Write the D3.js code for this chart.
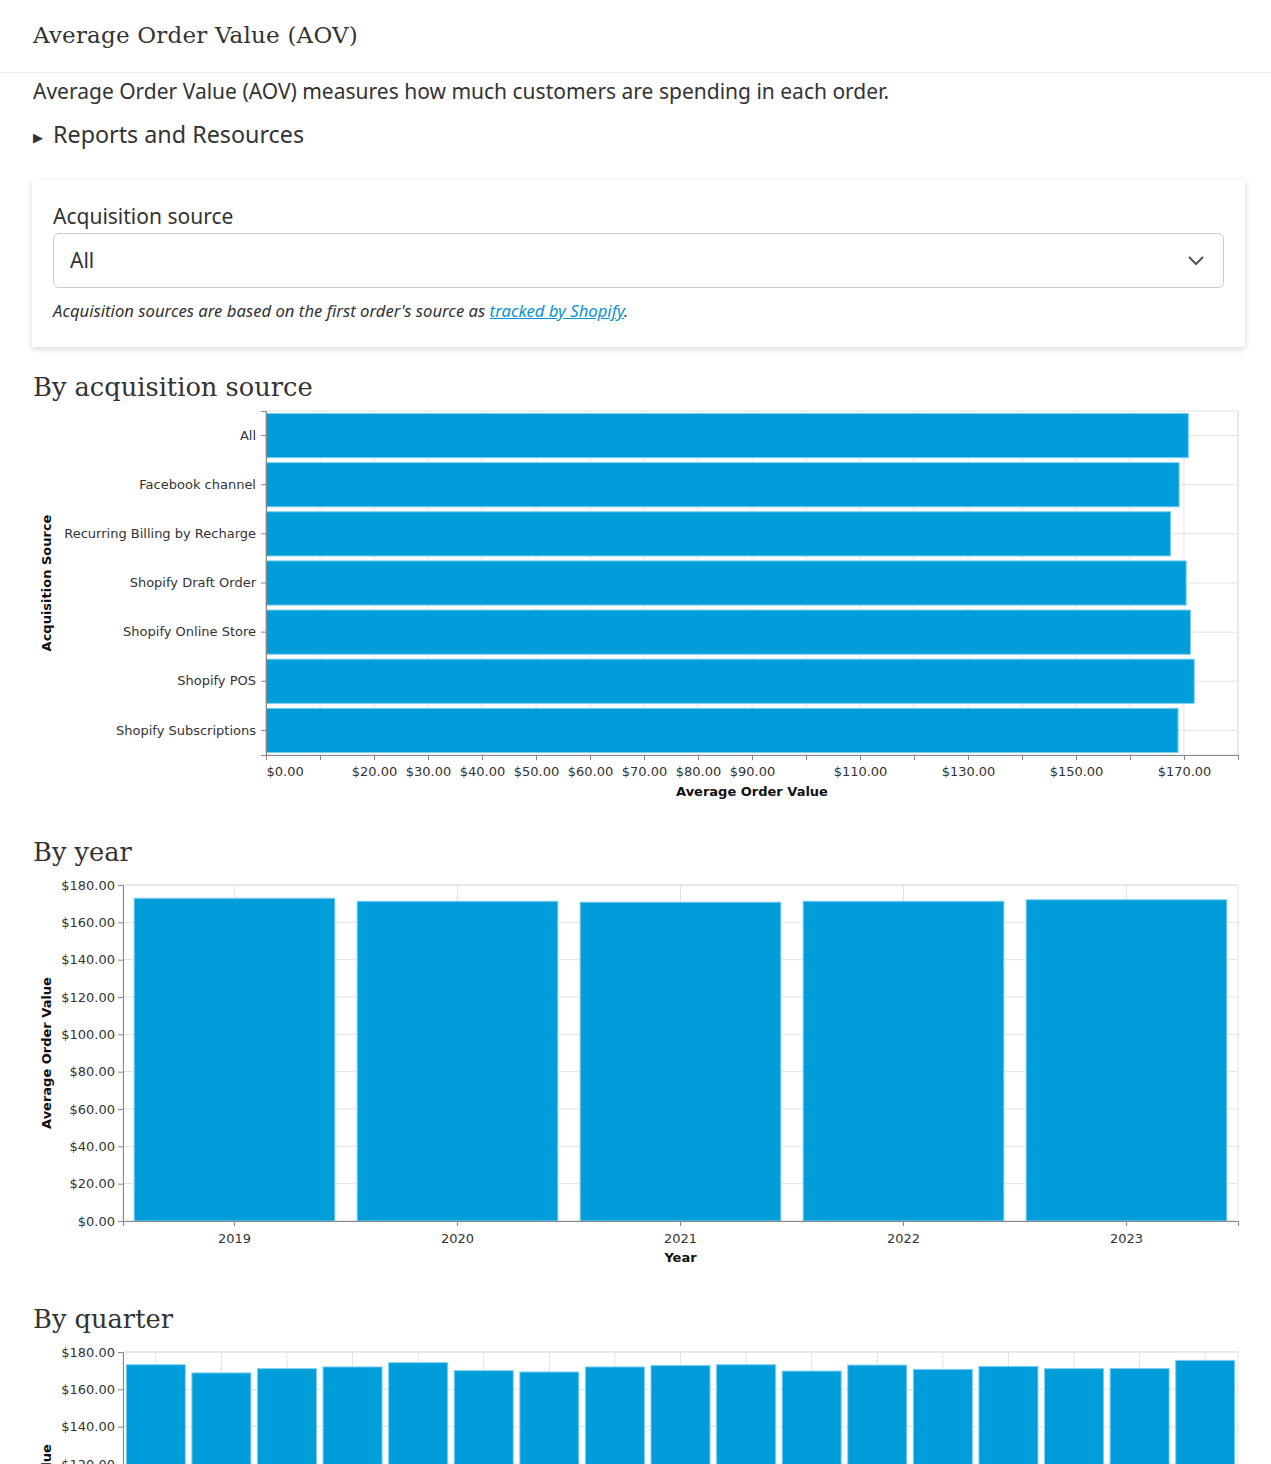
<!DOCTYPE html>
<html>
<head>
<meta charset="utf-8">
<script src="https://cdn.jsdelivr.net/npm/d3@7"></script>
<style>
  html, body { margin: 0; padding: 0; background: #fff; width: 1271px; overflow: hidden; }
  body { position: relative; height: 1464px; font-family: "Noto Sans", sans-serif; color: #333; }
  .abs { position: absolute; white-space: nowrap; }
  .topbar { position: absolute; left: 0; top: 0; width: 1271px; height: 72px; border-bottom: 1px solid #eee; box-shadow: 0 1px 2px rgba(0,0,0,0.04); }
  .slab { font-family: "DejaVu Serif", serif; color: #333; }
  .card { position: absolute; left: 32px; top: 180px; width: 1213px; height: 167px; background: #fff; box-shadow: 0 2px 6px rgba(0,0,0,0.16); border-radius: 2px; }
  .select { position: absolute; left: 21px; top: 53px; width: 1169px; height: 53px; border: 1px solid #ccc; border-radius: 6px; }
  a { color: #0a93d4; }
  svg text { font-family: "DejaVu Sans", sans-serif; }
</style>
</head>
<body>
<div class="topbar"></div>
<div class="abs slab" style="left:33px; top:22px; font-size:23px; letter-spacing:0.2px;">Average Order Value (AOV)</div>
<div class="abs" style="left:33px; top:77px; font-size:21px;">Average Order Value (AOV) measures how much customers are spending in each order.</div>
<div class="abs" style="left:33px; top:128px; font-size:13px;">&#9654;</div>
<div class="abs" style="left:53px; top:118px; font-size:23.3px;">Reports and Resources</div>
<div class="card">
  <div class="abs" style="left:21px; top:22px; font-size:21px;">Acquisition source</div>
  <div class="select">
    <div class="abs" style="left:16px; top:12px; font-size:21px;">All</div>
    <svg class="abs" style="left:1132px; top:20px;" width="20" height="14"><path d="M3,3 L10,10 L17,3" fill="none" stroke="#555" stroke-width="2"/></svg>
  </div>
  <div class="abs" style="left:21px; top:119px; font-size:16.7px; font-style:italic;">Acquisition sources are based on the first order's source as <a href="#">tracked by Shopify</a>.</div>
</div>
<div class="abs slab" style="left:33px; top:372px; font-size:25.7px;">By acquisition source</div>
<div class="abs slab" style="left:33px; top:837px; font-size:25.7px;">By year</div>
<div class="abs slab" style="left:33px; top:1304px; font-size:25.7px;">By quarter</div>
<svg id="charts" class="abs" style="left:0; top:0;" width="1271" height="1800"></svg>
<script>
// ---- data ----
const sources = ["All", "Facebook channel", "Recurring Billing by Recharge", "Shopify Draft Order", "Shopify Online Store", "Shopify POS", "Shopify Subscriptions"];
const sourceAOV = [170.8, 169.1, 167.5, 170.4, 171.2, 171.9, 168.9];
const sourceTicks = [0, 10, 20, 30, 40, 50, 60, 70, 80, 90, 100, 110, 120, 130, 140, 150, 160, 170, 180];
const sourceTickLabelsShown = [0, 20, 30, 40, 50, 60, 70, 80, 90, 110, 130, 150, 170];

const years = ["2019", "2020", "2021", "2022", "2023"];
const yearAOV = [172.9, 171.3, 170.8, 171.3, 172.1];

const quarters = ["2019 Q1", "2019 Q2", "2019 Q3", "2019 Q4", "2020 Q1", "2020 Q2", "2020 Q3", "2020 Q4", "2021 Q1", "2021 Q2", "2021 Q3", "2021 Q4", "2022 Q1", "2022 Q2", "2022 Q3", "2022 Q4", "2023 Q1"];
const quarterAOV = [173.2, 168.8, 171.1, 172.0, 174.3, 170.0, 169.3, 172.0, 172.8, 173.2, 169.8, 173.0, 170.7, 172.3, 171.1, 171.2, 175.5];

const valueTicks = [0, 20, 40, 60, 80, 100, 120, 140, 160, 180];

// ---- styles ----
const BAR = "#009ddb", BAR_STROKE = "#7fd0f0", GRID = "#e2e2e2", DOMAIN = "#888", TXT = "#333";
const money = d => "$" + d3.format(".2f")(d);
const svg = d3.select("#charts");

function styleAxis(g) {
  g.selectAll(".domain").attr("stroke", DOMAIN);
  g.selectAll(".tick line").attr("stroke", DOMAIN);
  g.selectAll(".tick text").attr("fill", TXT).style("font-size", "13px");
}

// ---- chart 1: horizontal bars ----
(function () {
  const L = 266, R = 1238, T = 411, B = 755;
  const x = d3.scaleLinear().domain([0, 180]).range([L, R]);
  const y = d3.scaleBand().domain(sources).range([T, B]).paddingInner(0.1).paddingOuter(0.05);
  const g = svg.append("g");
  g.append("rect").attr("x", L).attr("y", T).attr("width", R - L).attr("height", B - T).attr("fill", "none").attr("stroke", GRID);
  g.selectAll(".gx").data(sourceTicks).join("line").attr("x1", d => x(d)).attr("x2", d => x(d)).attr("y1", T).attr("y2", B).attr("stroke", GRID);
  g.selectAll(".gy").data(sources).join("line").attr("x1", L).attr("x2", R).attr("y1", d => y(d) + y.bandwidth() / 2).attr("y2", d => y(d) + y.bandwidth() / 2).attr("stroke", GRID);
  g.selectAll(".bar").data(sources).join("rect")
    .attr("x", x(0)).attr("y", d => y(d)).attr("height", y.bandwidth())
    .attr("width", (d, i) => x(sourceAOV[i]) - x(0))
    .attr("fill", BAR).attr("stroke", BAR_STROKE).attr("stroke-width", 1);
  const ax = g.append("g").attr("transform", `translate(0,${B})`)
    .call(d3.axisBottom(x).tickValues(sourceTicks).tickSize(5).tickPadding(7)
      .tickFormat(d => sourceTickLabelsShown.includes(d) ? money(d) : ""));
  styleAxis(ax);
  ax.selectAll(".tick text").filter(d => d === 0).attr("text-anchor", "start");
  const ay = g.append("g").attr("transform", `translate(${L},0)`)
    .call(d3.axisLeft(y).tickSize(5).tickPadding(5));
  styleAxis(ay);
  g.append("text").attr("x", (L + R) / 2).attr("y", 796).attr("text-anchor", "middle")
    .style("font-size", "13px").style("font-weight", "bold").attr("fill", "#111").text("Average Order Value");
  g.append("text").attr("transform", `translate(51,${(T + B) / 2}) rotate(-90)`).attr("text-anchor", "middle")
    .style("font-size", "13px").style("font-weight", "bold").attr("fill", "#111").text("Acquisition Source");
})();

// ---- vertical bar chart helper ----
function vbar(cats, vals, T, title) {
  const L = 123, R = 1238, H = 336, B = T + H;
  const x = d3.scaleBand().domain(cats).range([L, R]).paddingInner(0.1).paddingOuter(0.05);
  const y = d3.scaleLinear().domain([0, 180]).range([B, T]);
  const g = svg.append("g");
  g.append("rect").attr("x", L).attr("y", T).attr("width", R - L).attr("height", H).attr("fill", "none").attr("stroke", GRID);
  g.selectAll(".gy").data(valueTicks).join("line").attr("x1", L).attr("x2", R).attr("y1", d => y(d)).attr("y2", d => y(d)).attr("stroke", GRID);
  g.selectAll(".gx").data(cats).join("line").attr("x1", d => x(d) + x.bandwidth() / 2).attr("x2", d => x(d) + x.bandwidth() / 2).attr("y1", T).attr("y2", B).attr("stroke", GRID);
  g.selectAll(".bar").data(cats).join("rect")
    .attr("x", d => x(d)).attr("width", x.bandwidth())
    .attr("y", (d, i) => y(vals[i])).attr("height", (d, i) => y(0) - y(vals[i]))
    .attr("fill", BAR).attr("stroke", BAR_STROKE).attr("stroke-width", 1);
  const ay = g.append("g").attr("transform", `translate(${L},0)`)
    .call(d3.axisLeft(y).tickValues(valueTicks).tickSize(5).tickPadding(3).tickFormat(money));
  styleAxis(ay);
  const ax = g.append("g").attr("transform", `translate(0,${B})`)
    .call(d3.axisBottom(x).tickSize(5).tickPadding(8));
  styleAxis(ax);
  if (title) g.append("text").attr("x", (L + R) / 2).attr("y", B + 41).attr("text-anchor", "middle")
    .style("font-size", "13px").style("font-weight", "bold").attr("fill", "#111").text(title);
  g.append("text").attr("transform", `translate(51,${T + H / 2}) rotate(-90)`).attr("text-anchor", "middle")
    .style("font-size", "13px").style("font-weight", "bold").attr("fill", "#111").text("Average Order Value");
}
vbar(years, yearAOV, 885, "Year");
vbar(quarters, quarterAOV, 1352, "Quarter");
</script>
</body>
</html>
